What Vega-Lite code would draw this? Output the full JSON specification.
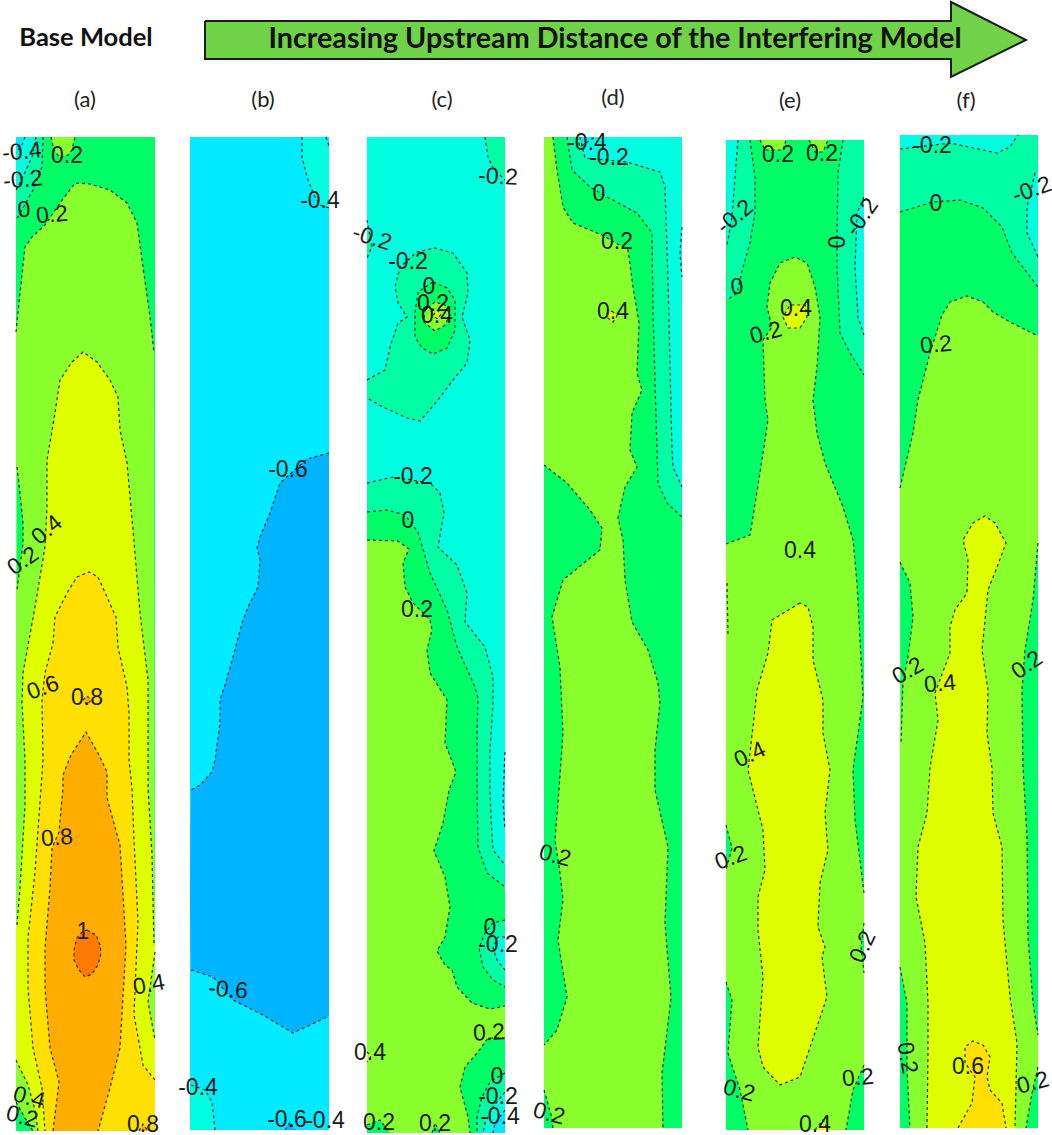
{"$schema":"https://vega.github.io/schema/vega-lite/v6.json","width":1052,"height":1135,"padding":0,"autosize":{"type":"none"},"background":"white","config":{"view":{"stroke":null}},
"datasets":{"regions":[
{"s":"a0","v":0,"x":16,"y":137,"c":1},{"s":"a0","v":0,"x":155,"y":137,"c":1},{"s":"a0","v":0,"x":155,"y":1131,"c":1},{"s":"a0","v":0,"x":16,"y":1131,"c":1},
{"s":"a1","v":0.2,"x":16,"y":332},{"s":"a1","v":0.2,"x":20,"y":293},{"s":"a1","v":0.2,"x":25,"y":247},{"s":"a1","v":0.2,"x":32,"y":237},{"s":"a1","v":0.2,"x":45,"y":225},{"s":"a1","v":0.2,"x":60,"y":203},{"s":"a1","v":0.2,"x":75,"y":183},{"s":"a1","v":0.2,"x":90,"y":184},{"s":"a1","v":0.2,"x":110,"y":190},{"s":"a1","v":0.2,"x":127,"y":203},{"s":"a1","v":0.2,"x":137,"y":223},{"s":"a1","v":0.2,"x":143,"y":267},{"s":"a1","v":0.2,"x":150,"y":317},{"s":"a1","v":0.2,"x":154,"y":353},{"s":"a1","v":0.2,"x":155,"y":1131,"c":1},{"s":"a1","v":0.2,"x":16,"y":1131,"c":1},
{"s":"a2","v":0.2,"x":51,"y":137},{"s":"a2","v":0.2,"x":54,"y":150},{"s":"a2","v":0.2,"x":60,"y":158},{"s":"a2","v":0.2,"x":68,"y":155},{"s":"a2","v":0.2,"x":72,"y":150},{"s":"a2","v":0.2,"x":75,"y":137},
{"s":"a3","v":-0.2,"x":43,"y":137},{"s":"a3","v":-0.2,"x":42,"y":167},{"s":"a3","v":-0.2,"x":33,"y":190},{"s":"a3","v":-0.2,"x":18,"y":217},{"s":"a3","v":-0.2,"x":16,"y":218},{"s":"a3","v":-0.2,"x":16,"y":137,"c":1},
{"s":"a4","v":-0.4,"x":36,"y":137},{"s":"a4","v":-0.4,"x":32,"y":157},{"s":"a4","v":-0.4,"x":20,"y":183},{"s":"a4","v":-0.4,"x":16,"y":190},{"s":"a4","v":-0.4,"x":16,"y":137,"c":1},
{"s":"a5","v":-0.6,"x":25,"y":137},{"s":"a5","v":-0.6,"x":22,"y":145},{"s":"a5","v":-0.6,"x":16,"y":153},{"s":"a5","v":-0.6,"x":16,"y":137,"c":1},
{"s":"a6","v":0,"x":17,"y":467},{"s":"a6","v":0,"x":20,"y":493},{"s":"a6","v":0,"x":23,"y":523},{"s":"a6","v":0,"x":23,"y":543},{"s":"a6","v":0,"x":17,"y":590},
{"s":"a7","v":0,"x":16,"y":1102},{"s":"a7","v":0,"x":25,"y":1118},{"s":"a7","v":0,"x":33,"y":1131},{"s":"a7","v":0,"x":16,"y":1131,"c":1},
{"s":"a8","v":0.4,"x":17,"y":925},{"s":"a8","v":0.4,"x":20,"y":888},{"s":"a8","v":0.4,"x":25,"y":805},{"s":"a8","v":0.4,"x":25,"y":760},{"s":"a8","v":0.4,"x":22,"y":703},{"s":"a8","v":0.4,"x":23,"y":673},{"s":"a8","v":0.4,"x":35,"y":607},{"s":"a8","v":0.4,"x":45,"y":547},{"s":"a8","v":0.4,"x":47,"y":507},{"s":"a8","v":0.4,"x":47,"y":460},{"s":"a8","v":0.4,"x":55,"y":413},{"s":"a8","v":0.4,"x":60,"y":380},{"s":"a8","v":0.4,"x":72,"y":362},{"s":"a8","v":0.4,"x":83,"y":352},{"s":"a8","v":0.4,"x":97,"y":362},{"s":"a8","v":0.4,"x":110,"y":380},{"s":"a8","v":0.4,"x":118,"y":397},{"s":"a8","v":0.4,"x":120,"y":430},{"s":"a8","v":0.4,"x":127,"y":463},{"s":"a8","v":0.4,"x":133,"y":530},{"s":"a8","v":0.4,"x":140,"y":613},{"s":"a8","v":0.4,"x":148,"y":680},{"s":"a8","v":0.4,"x":148,"y":760},{"s":"a8","v":0.4,"x":148,"y":788},{"s":"a8","v":0.4,"x":152,"y":855},{"s":"a8","v":0.4,"x":154,"y":945},
{"s":"a9","v":0.4,"x":16,"y":1060},{"s":"a9","v":0.4,"x":28,"y":1085},{"s":"a9","v":0.4,"x":35,"y":1110},{"s":"a9","v":0.4,"x":38,"y":1131},{"s":"a9","v":0.4,"x":155,"y":1131,"c":1},{"s":"a9","v":0.4,"x":155,"y":945,"c":1},{"s":"a9","v":0.4,"x":16,"y":925,"c":1},
{"s":"a10","v":0.2,"x":155,"y":952},{"s":"a10","v":0.2,"x":148,"y":1002},{"s":"a10","v":0.2,"x":155,"y":1040},
{"s":"a11","v":0.6,"x":155,"y":1080},{"s":"a11","v":0.6,"x":143,"y":1065},{"s":"a11","v":0.6,"x":140,"y":1048},{"s":"a11","v":0.6,"x":134,"y":1015},{"s":"a11","v":0.6,"x":135,"y":990},{"s":"a11","v":0.6,"x":138,"y":922},{"s":"a11","v":0.6,"x":136,"y":880},{"s":"a11","v":0.6,"x":134,"y":840},{"s":"a11","v":0.6,"x":132,"y":788},{"s":"a11","v":0.6,"x":129,"y":760},{"s":"a11","v":0.6,"x":129,"y":713},{"s":"a11","v":0.6,"x":127,"y":687},{"s":"a11","v":0.6,"x":118,"y":647},{"s":"a11","v":0.6,"x":116,"y":617},{"s":"a11","v":0.6,"x":107,"y":597},{"s":"a11","v":0.6,"x":98,"y":577},{"s":"a11","v":0.6,"x":89,"y":572},{"s":"a11","v":0.6,"x":77,"y":577},{"s":"a11","v":0.6,"x":67,"y":593},{"s":"a11","v":0.6,"x":55,"y":617},{"s":"a11","v":0.6,"x":53,"y":643},{"s":"a11","v":0.6,"x":45,"y":673},{"s":"a11","v":0.6,"x":42,"y":700},{"s":"a11","v":0.6,"x":43,"y":760},{"s":"a11","v":0.6,"x":41,"y":788},{"s":"a11","v":0.6,"x":35,"y":872},{"s":"a11","v":0.6,"x":28,"y":938},{"s":"a11","v":0.6,"x":28,"y":988},{"s":"a11","v":0.6,"x":33,"y":1048},{"s":"a11","v":0.6,"x":42,"y":1088},{"s":"a11","v":0.6,"x":45,"y":1131},{"s":"a11","v":0.6,"x":155,"y":1131,"c":1},
{"s":"a12","v":0.8,"x":53,"y":1131},{"s":"a12","v":0.8,"x":59,"y":1082},{"s":"a12","v":0.8,"x":50,"y":1048},{"s":"a12","v":0.8,"x":45,"y":988},{"s":"a12","v":0.8,"x":45,"y":948},{"s":"a12","v":0.8,"x":50,"y":888},{"s":"a12","v":0.8,"x":52,"y":848},{"s":"a12","v":0.8,"x":59,"y":832},{"s":"a12","v":0.8,"x":63,"y":788},{"s":"a12","v":0.8,"x":63,"y":775},{"s":"a12","v":0.8,"x":71,"y":755},{"s":"a12","v":0.8,"x":86,"y":732},{"s":"a12","v":0.8,"x":99,"y":755},{"s":"a12","v":0.8,"x":107,"y":772},{"s":"a12","v":0.8,"x":107,"y":798},{"s":"a12","v":0.8,"x":120,"y":845},{"s":"a12","v":0.8,"x":126,"y":945},{"s":"a12","v":0.8,"x":120,"y":1048},{"s":"a12","v":0.8,"x":110,"y":1088},{"s":"a12","v":0.8,"x":98,"y":1131},
{"s":"a13","v":0.8,"x":83,"y":700},{"s":"a13","v":0.8,"x":87,"y":696},{"s":"a13","v":0.8,"x":91,"y":700},{"s":"a13","v":0.8,"x":87,"y":705},{"s":"a13","v":0.8,"x":83,"y":700},
{"s":"a15","v":0.8,"x":139,"y":1131},{"s":"a15","v":0.8,"x":143,"y":1124},{"s":"a15","v":0.8,"x":148,"y":1131},
{"s":"a14","v":1,"x":87,"y":930},{"s":"a14","v":1,"x":96,"y":935},{"s":"a14","v":1,"x":100,"y":945},{"s":"a14","v":1,"x":101,"y":953},{"s":"a14","v":1,"x":98,"y":965},{"s":"a14","v":1,"x":92,"y":974},{"s":"a14","v":1,"x":85,"y":977},{"s":"a14","v":1,"x":79,"y":970},{"s":"a14","v":1,"x":74,"y":960},{"s":"a14","v":1,"x":74,"y":950},{"s":"a14","v":1,"x":77,"y":938},{"s":"a14","v":1,"x":83,"y":931},{"s":"a14","v":1,"x":87,"y":930},

{"s":"b0","v":-0.6,"x":190,"y":137,"c":1},{"s":"b0","v":-0.6,"x":329,"y":137,"c":1},{"s":"b0","v":-0.6,"x":329,"y":1130,"c":1},{"s":"b0","v":-0.6,"x":190,"y":1130,"c":1},
{"s":"b1","v":-0.4,"x":329,"y":208},{"s":"b1","v":-0.4,"x":320,"y":205},{"s":"b1","v":-0.4,"x":315,"y":197},{"s":"b1","v":-0.4,"x":308,"y":180},{"s":"b1","v":-0.4,"x":302,"y":157},{"s":"b1","v":-0.4,"x":302,"y":137},{"s":"b1","v":-0.4,"x":329,"y":137,"c":1},
{"s":"b2","v":-0.6,"x":326,"y":137},{"s":"b2","v":-0.6,"x":329,"y":146},{"s":"b2","v":-0.6,"x":329,"y":137,"c":1},
{"s":"b3","v":-0.8,"x":329,"y":453},{"s":"b3","v":-0.8,"x":307,"y":459},{"s":"b3","v":-0.8,"x":280,"y":483},{"s":"b3","v":-0.8,"x":270,"y":513},{"s":"b3","v":-0.8,"x":260,"y":537},{"s":"b3","v":-0.8,"x":257,"y":548},{"s":"b3","v":-0.8,"x":260,"y":560},{"s":"b3","v":-0.8,"x":258,"y":587},{"s":"b3","v":-0.8,"x":248,"y":607},{"s":"b3","v":-0.8,"x":242,"y":623},{"s":"b3","v":-0.8,"x":233,"y":657},{"s":"b3","v":-0.8,"x":225,"y":685},{"s":"b3","v":-0.8,"x":220,"y":700},{"s":"b3","v":-0.8,"x":220,"y":723},{"s":"b3","v":-0.8,"x":215,"y":760},{"s":"b3","v":-0.8,"x":212,"y":772},{"s":"b3","v":-0.8,"x":200,"y":785},{"s":"b3","v":-0.8,"x":191,"y":790},{"s":"b3","v":-0.8,"x":190,"y":900,"c":1},{"s":"b3","v":-0.8,"x":329,"y":900,"c":1},
{"s":"b4","v":-0.8,"x":191,"y":970},{"s":"b4","v":-0.8,"x":213,"y":977},{"s":"b4","v":-0.8,"x":233,"y":1000},{"s":"b4","v":-0.8,"x":263,"y":1015},{"s":"b4","v":-0.8,"x":293,"y":1033},{"s":"b4","v":-0.8,"x":329,"y":1016},{"s":"b4","v":-0.8,"x":329,"y":900,"c":1},{"s":"b4","v":-0.8,"x":190,"y":900,"c":1},
{"s":"b5","v":-0.4,"x":191,"y":1085},{"s":"b5","v":-0.4,"x":205,"y":1090},{"s":"b5","v":-0.4,"x":212,"y":1102},{"s":"b5","v":-0.4,"x":215,"y":1130},{"s":"b5","v":-0.4,"x":190,"y":1130,"c":1},
{"s":"b6","v":-0.8,"x":285,"y":1130},{"s":"b6","v":-0.8,"x":290,"y":1122},{"s":"b6","v":-0.8,"x":295,"y":1130},

{"s":"c0","v":-0.4,"x":367,"y":137,"c":1},{"s":"c0","v":-0.4,"x":505,"y":137,"c":1},{"s":"c0","v":-0.4,"x":505,"y":1133,"c":1},{"s":"c0","v":-0.4,"x":367,"y":1133,"c":1},
{"s":"c1","v":-0.2,"x":485,"y":137},{"s":"c1","v":-0.2,"x":488,"y":157},{"s":"c1","v":-0.2,"x":493,"y":168},{"s":"c1","v":-0.2,"x":505,"y":180},{"s":"c1","v":-0.2,"x":505,"y":137,"c":1},
{"s":"c2","v":-0.2,"x":367,"y":220},{"s":"c2","v":-0.2,"x":372,"y":247},{"s":"c2","v":-0.2,"x":367,"y":258},
{"s":"c3","v":-0.2,"x":367,"y":380},{"s":"c3","v":-0.2,"x":385,"y":370},{"s":"c3","v":-0.2,"x":390,"y":347},{"s":"c3","v":-0.2,"x":398,"y":323},{"s":"c3","v":-0.2,"x":407,"y":317},{"s":"c3","v":-0.2,"x":398,"y":303},{"s":"c3","v":-0.2,"x":395,"y":287},{"s":"c3","v":-0.2,"x":400,"y":267},{"s":"c3","v":-0.2,"x":417,"y":252},{"s":"c3","v":-0.2,"x":435,"y":248},{"s":"c3","v":-0.2,"x":453,"y":253},{"s":"c3","v":-0.2,"x":467,"y":273},{"s":"c3","v":-0.2,"x":468,"y":293},{"s":"c3","v":-0.2,"x":462,"y":317},{"s":"c3","v":-0.2,"x":470,"y":340},{"s":"c3","v":-0.2,"x":467,"y":363},{"s":"c3","v":-0.2,"x":453,"y":380},{"s":"c3","v":-0.2,"x":438,"y":400},{"s":"c3","v":-0.2,"x":420,"y":421},{"s":"c3","v":-0.2,"x":407,"y":418},{"s":"c3","v":-0.2,"x":383,"y":407},{"s":"c3","v":-0.2,"x":367,"y":398},
{"s":"c4","v":0,"x":433,"y":282},{"s":"c4","v":0,"x":418,"y":292},{"s":"c4","v":0,"x":415,"y":313},{"s":"c4","v":0,"x":415,"y":337},{"s":"c4","v":0,"x":422,"y":348},{"s":"c4","v":0,"x":433,"y":354},{"s":"c4","v":0,"x":447,"y":348},{"s":"c4","v":0,"x":455,"y":330},{"s":"c4","v":0,"x":455,"y":300},{"s":"c4","v":0,"x":447,"y":288},{"s":"c4","v":0,"x":433,"y":282},
{"s":"c5","v":0.2,"x":435,"y":302},{"s":"c5","v":0.2,"x":425,"y":310},{"s":"c5","v":0.2,"x":424,"y":322},{"s":"c5","v":0.2,"x":435,"y":331},{"s":"c5","v":0.2,"x":445,"y":325},{"s":"c5","v":0.2,"x":450,"y":315},{"s":"c5","v":0.2,"x":445,"y":305},{"s":"c5","v":0.2,"x":435,"y":302},
{"s":"c6","v":0.4,"x":437,"y":310},{"s":"c6","v":0.4,"x":441,"y":314},{"s":"c6","v":0.4,"x":438,"y":319},{"s":"c6","v":0.4,"x":433,"y":316},{"s":"c6","v":0.4,"x":437,"y":310},
{"s":"c7","v":-0.2,"x":367,"y":483},{"s":"c7","v":-0.2,"x":393,"y":477},{"s":"c7","v":-0.2,"x":430,"y":483},{"s":"c7","v":-0.2,"x":440,"y":493},{"s":"c7","v":-0.2,"x":444,"y":513},{"s":"c7","v":-0.2,"x":438,"y":547},{"s":"c7","v":-0.2,"x":457,"y":565},{"s":"c7","v":-0.2,"x":467,"y":593},{"s":"c7","v":-0.2,"x":465,"y":622},{"s":"c7","v":-0.2,"x":485,"y":647},{"s":"c7","v":-0.2,"x":493,"y":677},{"s":"c7","v":-0.2,"x":493,"y":703},{"s":"c7","v":-0.2,"x":490,"y":750},{"s":"c7","v":-0.2,"x":490,"y":790},{"s":"c7","v":-0.2,"x":491,"y":817},{"s":"c7","v":-0.2,"x":493,"y":850},{"s":"c7","v":-0.2,"x":505,"y":865},{"s":"c7","v":-0.2,"x":505,"y":1133,"c":1},{"s":"c7","v":-0.2,"x":367,"y":1133,"c":1},
{"s":"c8","v":-0.6,"x":505,"y":752},{"s":"c8","v":-0.6,"x":503,"y":800},{"s":"c8","v":-0.6,"x":505,"y":830},
{"s":"c9","v":0,"x":367,"y":512},{"s":"c9","v":0,"x":387,"y":510},{"s":"c9","v":0,"x":405,"y":515},{"s":"c9","v":0,"x":418,"y":532},{"s":"c9","v":0,"x":430,"y":573},{"s":"c9","v":0,"x":447,"y":610},{"s":"c9","v":0,"x":457,"y":647},{"s":"c9","v":0,"x":475,"y":687},{"s":"c9","v":0,"x":478,"y":698},{"s":"c9","v":0,"x":477,"y":733},{"s":"c9","v":0,"x":477,"y":790},{"s":"c9","v":0,"x":478,"y":847},{"s":"c9","v":0,"x":487,"y":873},{"s":"c9","v":0,"x":505,"y":887},{"s":"c9","v":0,"x":505,"y":1133,"c":1},{"s":"c9","v":0,"x":367,"y":1133,"c":1},
{"s":"c10","v":0.2,"x":367,"y":540},{"s":"c10","v":0.2,"x":398,"y":541},{"s":"c10","v":0.2,"x":409,"y":549},{"s":"c10","v":0.2,"x":403,"y":563},{"s":"c10","v":0.2,"x":405,"y":587},{"s":"c10","v":0.2,"x":413,"y":603},{"s":"c10","v":0.2,"x":430,"y":620},{"s":"c10","v":0.2,"x":432,"y":630},{"s":"c10","v":0.2,"x":427,"y":650},{"s":"c10","v":0.2,"x":430,"y":673},{"s":"c10","v":0.2,"x":447,"y":700},{"s":"c10","v":0.2,"x":445,"y":743},{"s":"c10","v":0.2,"x":456,"y":772},{"s":"c10","v":0.2,"x":449,"y":790},{"s":"c10","v":0.2,"x":443,"y":823},{"s":"c10","v":0.2,"x":434,"y":851},{"s":"c10","v":0.2,"x":445,"y":877},{"s":"c10","v":0.2,"x":450,"y":907},{"s":"c10","v":0.2,"x":445,"y":937},{"s":"c10","v":0.2,"x":437,"y":951},{"s":"c10","v":0.2,"x":445,"y":965},{"s":"c10","v":0.2,"x":452,"y":970},{"s":"c10","v":0.2,"x":457,"y":987},{"s":"c10","v":0.2,"x":472,"y":1003},{"s":"c10","v":0.2,"x":490,"y":1009},{"s":"c10","v":0.2,"x":505,"y":1006},{"s":"c10","v":0.2,"x":505,"y":1133,"c":1},{"s":"c10","v":0.2,"x":367,"y":1133,"c":1},
{"s":"c11","v":0,"x":505,"y":1038},{"s":"c11","v":0,"x":488,"y":1038},{"s":"c11","v":0,"x":478,"y":1052},{"s":"c11","v":0,"x":465,"y":1067},{"s":"c11","v":0,"x":460,"y":1087},{"s":"c11","v":0,"x":468,"y":1117},{"s":"c11","v":0,"x":470,"y":1133},{"s":"c11","v":0,"x":505,"y":1133,"c":1},
{"s":"c12","v":-0.2,"x":505,"y":920},{"s":"c12","v":-0.2,"x":493,"y":923},{"s":"c12","v":-0.2,"x":485,"y":933},{"s":"c12","v":-0.2,"x":479,"y":948},{"s":"c12","v":-0.2,"x":483,"y":967},{"s":"c12","v":-0.2,"x":493,"y":980},{"s":"c12","v":-0.2,"x":505,"y":987},
{"s":"c13","v":-0.4,"x":505,"y":937},{"s":"c13","v":-0.4,"x":498,"y":937},{"s":"c13","v":-0.4,"x":493,"y":948},{"s":"c13","v":-0.4,"x":497,"y":960},{"s":"c13","v":-0.4,"x":505,"y":970},
{"s":"c14","v":-0.2,"x":505,"y":1073},{"s":"c14","v":-0.2,"x":490,"y":1082},{"s":"c14","v":-0.2,"x":482,"y":1097},{"s":"c14","v":-0.2,"x":477,"y":1117},{"s":"c14","v":-0.2,"x":477,"y":1133},{"s":"c14","v":-0.2,"x":505,"y":1133,"c":1},
{"s":"c15","v":-0.4,"x":505,"y":1092},{"s":"c15","v":-0.4,"x":493,"y":1107},{"s":"c15","v":-0.4,"x":485,"y":1123},{"s":"c15","v":-0.4,"x":483,"y":1133},{"s":"c15","v":-0.4,"x":505,"y":1133,"c":1},
{"s":"c16","v":-0.6,"x":505,"y":1110},{"s":"c16","v":-0.6,"x":495,"y":1123},{"s":"c16","v":-0.6,"x":493,"y":1133},{"s":"c16","v":-0.6,"x":505,"y":1133,"c":1},
{"s":"c17","v":0,"x":367,"y":1125},{"s":"c17","v":0,"x":380,"y":1120},{"s":"c17","v":0,"x":390,"y":1133},{"s":"c17","v":0,"x":367,"y":1133,"c":1},
{"s":"c18","v":0,"x":432,"y":1133},{"s":"c18","v":0,"x":435,"y":1123},{"s":"c18","v":0,"x":440,"y":1133},
{"s":"c19","v":0.4,"x":367,"y":1052},{"s":"c19","v":0.4,"x":371,"y":1056},{"s":"c19","v":0.4,"x":367,"y":1062},

{"s":"d0","v":-0.4,"x":544,"y":137,"c":1},{"s":"d0","v":-0.4,"x":682,"y":137,"c":1},{"s":"d0","v":-0.4,"x":682,"y":1128,"c":1},{"s":"d0","v":-0.4,"x":544,"y":1128,"c":1},
{"s":"d1","v":-0.6,"x":682,"y":227},{"s":"d1","v":-0.6,"x":680,"y":253},{"s":"d1","v":-0.6,"x":682,"y":277},
{"s":"d2","v":-0.6,"x":577,"y":137},{"s":"d2","v":-0.6,"x":580,"y":147},{"s":"d2","v":-0.6,"x":595,"y":137},
{"s":"d3","v":-0.2,"x":580,"y":137},{"s":"d3","v":-0.2,"x":585,"y":158},{"s":"d3","v":-0.2,"x":627,"y":162},{"s":"d3","v":-0.2,"x":660,"y":172},{"s":"d3","v":-0.2,"x":665,"y":187},{"s":"d3","v":-0.2,"x":668,"y":280},{"s":"d3","v":-0.2,"x":672,"y":450},{"s":"d3","v":-0.2,"x":673,"y":467},{"s":"d3","v":-0.2,"x":682,"y":487},{"s":"d3","v":-0.2,"x":682,"y":1128,"c":1},{"s":"d3","v":-0.2,"x":544,"y":1128,"c":1},{"s":"d3","v":-0.2,"x":544,"y":137,"c":1},
{"s":"d4","v":0,"x":567,"y":137},{"s":"d4","v":0,"x":572,"y":170},{"s":"d4","v":0,"x":590,"y":187},{"s":"d4","v":0,"x":607,"y":197},{"s":"d4","v":0,"x":637,"y":213},{"s":"d4","v":0,"x":652,"y":233},{"s":"d4","v":0,"x":653,"y":313},{"s":"d4","v":0,"x":657,"y":450},{"s":"d4","v":0,"x":658,"y":483},{"s":"d4","v":0,"x":667,"y":503},{"s":"d4","v":0,"x":682,"y":517},{"s":"d4","v":0,"x":682,"y":1128,"c":1},{"s":"d4","v":0,"x":544,"y":1128,"c":1},{"s":"d4","v":0,"x":544,"y":137,"c":1},
{"s":"d5","v":0.2,"x":553,"y":137},{"s":"d5","v":0.2,"x":557,"y":170},{"s":"d5","v":0.2,"x":563,"y":207},{"s":"d5","v":0.2,"x":573,"y":223},{"s":"d5","v":0.2,"x":602,"y":235},{"s":"d5","v":0.2,"x":628,"y":250},{"s":"d5","v":0.2,"x":633,"y":287},{"s":"d5","v":0.2,"x":639,"y":323},{"s":"d5","v":0.2,"x":637,"y":373},{"s":"d5","v":0.2,"x":642,"y":390},{"s":"d5","v":0.2,"x":632,"y":413},{"s":"d5","v":0.2,"x":630,"y":450},{"s":"d5","v":0.2,"x":637,"y":467},{"s":"d5","v":0.2,"x":625,"y":487},{"s":"d5","v":0.2,"x":618,"y":518},{"s":"d5","v":0.2,"x":623,"y":540},{"s":"d5","v":0.2,"x":625,"y":580},{"s":"d5","v":0.2,"x":632,"y":622},{"s":"d5","v":0.2,"x":648,"y":650},{"s":"d5","v":0.2,"x":658,"y":683},{"s":"d5","v":0.2,"x":660,"y":703},{"s":"d5","v":0.2,"x":655,"y":750},{"s":"d5","v":0.2,"x":655,"y":790},{"s":"d5","v":0.2,"x":668,"y":847},{"s":"d5","v":0.2,"x":665,"y":923},{"s":"d5","v":0.2,"x":671,"y":998},{"s":"d5","v":0.2,"x":662,"y":1073},{"s":"d5","v":0.2,"x":663,"y":1128},{"s":"d5","v":0.2,"x":544,"y":1128,"c":1},{"s":"d5","v":0.2,"x":544,"y":137,"c":1},
{"s":"d6","v":0,"x":544,"y":465},{"s":"d6","v":0,"x":567,"y":483},{"s":"d6","v":0,"x":590,"y":510},{"s":"d6","v":0,"x":602,"y":528},{"s":"d6","v":0,"x":600,"y":550},{"s":"d6","v":0,"x":563,"y":580},{"s":"d6","v":0,"x":552,"y":617},{"s":"d6","v":0,"x":560,"y":667},{"s":"d6","v":0,"x":563,"y":733},{"s":"d6","v":0,"x":559,"y":790},{"s":"d6","v":0,"x":555,"y":840},{"s":"d6","v":0,"x":560,"y":873},{"s":"d6","v":0,"x":563,"y":900},{"s":"d6","v":0,"x":558,"y":940},{"s":"d6","v":0,"x":567,"y":997},{"s":"d6","v":0,"x":557,"y":1030},{"s":"d6","v":0,"x":544,"y":1045},
{"s":"d7","v":0,"x":544,"y":1090},{"s":"d7","v":0,"x":552,"y":1118},{"s":"d7","v":0,"x":553,"y":1128},{"s":"d7","v":0,"x":544,"y":1128,"c":1},
{"s":"d8","v":0.4,"x":612,"y":311},{"s":"d8","v":0.4,"x":617,"y":316},{"s":"d8","v":0.4,"x":613,"y":322},{"s":"d8","v":0.4,"x":608,"y":318},{"s":"d8","v":0.4,"x":607,"y":313},{"s":"d8","v":0.4,"x":612,"y":311},

{"s":"e0","v":0,"x":726,"y":140,"c":1},{"s":"e0","v":0,"x":864,"y":140,"c":1},{"s":"e0","v":0,"x":864,"y":1130,"c":1},{"s":"e0","v":0,"x":726,"y":1130,"c":1},
{"s":"e1","v":-0.2,"x":750,"y":140},{"s":"e1","v":-0.2,"x":755,"y":177},{"s":"e1","v":-0.2,"x":755,"y":213},{"s":"e1","v":-0.2,"x":750,"y":243},{"s":"e1","v":-0.2,"x":743,"y":267},{"s":"e1","v":-0.2,"x":737,"y":293},{"s":"e1","v":-0.2,"x":727,"y":300},{"s":"e1","v":-0.2,"x":726,"y":140,"c":1},
{"s":"e2","v":-0.4,"x":738,"y":140},{"s":"e2","v":-0.4,"x":735,"y":177},{"s":"e2","v":-0.4,"x":732,"y":217},{"s":"e2","v":-0.4,"x":727,"y":245},{"s":"e2","v":-0.4,"x":726,"y":140,"c":1},
{"s":"e3","v":-0.2,"x":843,"y":140},{"s":"e3","v":-0.2,"x":838,"y":173},{"s":"e3","v":-0.2,"x":837,"y":233},{"s":"e3","v":-0.2,"x":837,"y":267},{"s":"e3","v":-0.2,"x":840,"y":333},{"s":"e3","v":-0.2,"x":850,"y":353},{"s":"e3","v":-0.2,"x":864,"y":375},{"s":"e3","v":-0.2,"x":864,"y":140,"c":1},
{"s":"e4","v":-0.4,"x":864,"y":197},{"s":"e4","v":-0.4,"x":857,"y":213},{"s":"e4","v":-0.4,"x":855,"y":267},{"s":"e4","v":-0.4,"x":858,"y":317},{"s":"e4","v":-0.4,"x":864,"y":335},
{"s":"e5","v":0.2,"x":760,"y":140},{"s":"e5","v":0.2,"x":765,"y":150},{"s":"e5","v":0.2,"x":783,"y":150},{"s":"e5","v":0.2,"x":786,"y":140},
{"s":"e6","v":0.2,"x":809,"y":140},{"s":"e6","v":0.2,"x":815,"y":152},{"s":"e6","v":0.2,"x":823,"y":152},{"s":"e6","v":0.2,"x":828,"y":140},
{"s":"e7","v":0.2,"x":864,"y":893},{"s":"e7","v":0.2,"x":855,"y":820},{"s":"e7","v":0.2,"x":853,"y":770},{"s":"e7","v":0.2,"x":863,"y":697},{"s":"e7","v":0.2,"x":857,"y":583},{"s":"e7","v":0.2,"x":853,"y":540},{"s":"e7","v":0.2,"x":843,"y":507},{"s":"e7","v":0.2,"x":825,"y":463},{"s":"e7","v":0.2,"x":817,"y":433},{"s":"e7","v":0.2,"x":813,"y":400},{"s":"e7","v":0.2,"x":817,"y":367},{"s":"e7","v":0.2,"x":820,"y":317},{"s":"e7","v":0.2,"x":815,"y":287},{"s":"e7","v":0.2,"x":807,"y":263},{"s":"e7","v":0.2,"x":795,"y":257},{"s":"e7","v":0.2,"x":780,"y":263},{"s":"e7","v":0.2,"x":770,"y":283},{"s":"e7","v":0.2,"x":767,"y":307},{"s":"e7","v":0.2,"x":772,"y":327},{"s":"e7","v":0.2,"x":763,"y":340},{"s":"e7","v":0.2,"x":765,"y":400},{"s":"e7","v":0.2,"x":768,"y":420},{"s":"e7","v":0.2,"x":762,"y":460},{"s":"e7","v":0.2,"x":752,"y":523},{"s":"e7","v":0.2,"x":750,"y":535},{"s":"e7","v":0.2,"x":726,"y":544},{"s":"e7","v":0.2,"x":726,"y":1130,"c":1},{"s":"e7","v":0.2,"x":864,"y":1130,"c":1},
{"s":"e8","v":0,"x":727,"y":583},{"s":"e8","v":0,"x":728,"y":635},
{"s":"e9","v":0,"x":726,"y":825},{"s":"e9","v":0,"x":732,"y":848},{"s":"e9","v":0,"x":726,"y":870},
{"s":"e10","v":0,"x":726,"y":982},{"s":"e10","v":0,"x":732,"y":1000},{"s":"e10","v":0,"x":728,"y":1053},{"s":"e10","v":0,"x":740,"y":1090},{"s":"e10","v":0,"x":748,"y":1130},{"s":"e10","v":0,"x":726,"y":1130,"c":1},
{"s":"e11","v":0,"x":864,"y":923},{"s":"e11","v":0,"x":861,"y":947},{"s":"e11","v":0,"x":864,"y":973},
{"s":"e12","v":0,"x":864,"y":1065},{"s":"e12","v":0,"x":853,"y":1090},{"s":"e12","v":0,"x":846,"y":1130},{"s":"e12","v":0,"x":864,"y":1130,"c":1},
{"s":"e13","v":0.4,"x":783,"y":317},{"s":"e13","v":0.4,"x":788,"y":328},{"s":"e13","v":0.4,"x":800,"y":328},{"s":"e13","v":0.4,"x":807,"y":317},{"s":"e13","v":0.4,"x":805,"y":305},{"s":"e13","v":0.4,"x":790,"y":305},{"s":"e13","v":0.4,"x":783,"y":317},
{"s":"e14","v":0.4,"x":800,"y":603},{"s":"e14","v":0.4,"x":772,"y":620},{"s":"e14","v":0.4,"x":768,"y":653},{"s":"e14","v":0.4,"x":757,"y":690},{"s":"e14","v":0.4,"x":753,"y":727},{"s":"e14","v":0.4,"x":748,"y":770},{"s":"e14","v":0.4,"x":763,"y":830},{"s":"e14","v":0.4,"x":765,"y":870},{"s":"e14","v":0.4,"x":758,"y":897},{"s":"e14","v":0.4,"x":758,"y":930},{"s":"e14","v":0.4,"x":763,"y":977},{"s":"e14","v":0.4,"x":758,"y":1047},{"s":"e14","v":0.4,"x":763,"y":1067},{"s":"e14","v":0.4,"x":780,"y":1085},{"s":"e14","v":0.4,"x":800,"y":1077},{"s":"e14","v":0.4,"x":827,"y":997},{"s":"e14","v":0.4,"x":822,"y":957},{"s":"e14","v":0.4,"x":825,"y":947},{"s":"e14","v":0.4,"x":818,"y":927},{"s":"e14","v":0.4,"x":820,"y":883},{"s":"e14","v":0.4,"x":828,"y":850},{"s":"e14","v":0.4,"x":825,"y":813},{"s":"e14","v":0.4,"x":830,"y":770},{"s":"e14","v":0.4,"x":823,"y":733},{"s":"e14","v":0.4,"x":823,"y":700},{"s":"e14","v":0.4,"x":813,"y":660},{"s":"e14","v":0.4,"x":813,"y":627},{"s":"e14","v":0.4,"x":808,"y":607},{"s":"e14","v":0.4,"x":800,"y":603},
{"s":"e15","v":0.4,"x":815,"y":1130},{"s":"e15","v":0.4,"x":823,"y":1120},{"s":"e15","v":0.4,"x":828,"y":1130},

{"s":"f0","v":-0.2,"x":900,"y":135,"c":1},{"s":"f0","v":-0.2,"x":1038,"y":135,"c":1},{"s":"f0","v":-0.2,"x":1038,"y":1128,"c":1},{"s":"f0","v":-0.2,"x":900,"y":1128,"c":1},
{"s":"f1","v":-0.4,"x":900,"y":149},{"s":"f1","v":-0.4,"x":917,"y":147},{"s":"f1","v":-0.4,"x":950,"y":143},{"s":"f1","v":-0.4,"x":997,"y":153},{"s":"f1","v":-0.4,"x":1010,"y":147},{"s":"f1","v":-0.4,"x":1018,"y":135},{"s":"f1","v":-0.4,"x":900,"y":135,"c":1},
{"s":"f2","v":-0.4,"x":1035,"y":173},{"s":"f2","v":-0.4,"x":1027,"y":207},{"s":"f2","v":-0.4,"x":1027,"y":233},{"s":"f2","v":-0.4,"x":1038,"y":257},{"s":"f2","v":-0.4,"x":1038,"y":173,"c":1},
{"s":"f3","v":0,"x":900,"y":212},{"s":"f3","v":0,"x":933,"y":202},{"s":"f3","v":0,"x":960,"y":200},{"s":"f3","v":0,"x":983,"y":208},{"s":"f3","v":0,"x":1002,"y":227},{"s":"f3","v":0,"x":1012,"y":253},{"s":"f3","v":0,"x":1038,"y":287},{"s":"f3","v":0,"x":1038,"y":1128,"c":1},{"s":"f3","v":0,"x":900,"y":1128,"c":1},
{"s":"f4","v":0.2,"x":900,"y":488},{"s":"f4","v":0.2,"x":913,"y":433},{"s":"f4","v":0.2,"x":918,"y":400},{"s":"f4","v":0.2,"x":930,"y":353},{"s":"f4","v":0.2,"x":942,"y":315},{"s":"f4","v":0.2,"x":950,"y":302},{"s":"f4","v":0.2,"x":967,"y":296},{"s":"f4","v":0.2,"x":983,"y":302},{"s":"f4","v":0.2,"x":993,"y":312},{"s":"f4","v":0.2,"x":1010,"y":322},{"s":"f4","v":0.2,"x":1038,"y":336},{"s":"f4","v":0.2,"x":1038,"y":1128,"c":1},{"s":"f4","v":0.2,"x":900,"y":1128,"c":1},
{"s":"f5","v":0,"x":900,"y":562},{"s":"f5","v":0,"x":910,"y":583},{"s":"f5","v":0,"x":913,"y":617},{"s":"f5","v":0,"x":908,"y":657},{"s":"f5","v":0,"x":903,"y":683},{"s":"f5","v":0,"x":901,"y":743},
{"s":"f6","v":0,"x":1038,"y":543},{"s":"f6","v":0,"x":1033,"y":600},{"s":"f6","v":0,"x":1025,"y":650},{"s":"f6","v":0,"x":1022,"y":690},{"s":"f6","v":0,"x":1023,"y":768},{"s":"f6","v":0,"x":1027,"y":837},{"s":"f6","v":0,"x":1028,"y":937},{"s":"f6","v":0,"x":1033,"y":1003},{"s":"f6","v":0,"x":1038,"y":1035},
{"s":"f7","v":0,"x":900,"y":967},{"s":"f7","v":0,"x":907,"y":1003},{"s":"f7","v":0,"x":907,"y":1043},{"s":"f7","v":0,"x":907,"y":1070},{"s":"f7","v":0,"x":910,"y":1128},{"s":"f7","v":0,"x":900,"y":1128,"c":1},
{"s":"f8","v":0,"x":1038,"y":1067},{"s":"f8","v":0,"x":1032,"y":1093},{"s":"f8","v":0,"x":1026,"y":1128},{"s":"f8","v":0,"x":1038,"y":1128,"c":1},
{"s":"f9","v":0.4,"x":927,"y":1128},{"s":"f9","v":0.4,"x":928,"y":1053},{"s":"f9","v":0.4,"x":928,"y":1003},{"s":"f9","v":0.4,"x":925,"y":943},{"s":"f9","v":0.4,"x":916,"y":897},{"s":"f9","v":0.4,"x":918,"y":847},{"s":"f9","v":0.4,"x":927,"y":813},{"s":"f9","v":0.4,"x":930,"y":768},{"s":"f9","v":0.4,"x":938,"y":720},{"s":"f9","v":0.4,"x":935,"y":693},{"s":"f9","v":0.4,"x":950,"y":653},{"s":"f9","v":0.4,"x":950,"y":627},{"s":"f9","v":0.4,"x":955,"y":610},{"s":"f9","v":0.4,"x":967,"y":593},{"s":"f9","v":0.4,"x":968,"y":560},{"s":"f9","v":0.4,"x":963,"y":540},{"s":"f9","v":0.4,"x":973,"y":523},{"s":"f9","v":0.4,"x":985,"y":516},{"s":"f9","v":0.4,"x":995,"y":523},{"s":"f9","v":0.4,"x":1006,"y":543},{"s":"f9","v":0.4,"x":997,"y":567},{"s":"f9","v":0.4,"x":988,"y":590},{"s":"f9","v":0.4,"x":982,"y":650},{"s":"f9","v":0.4,"x":988,"y":690},{"s":"f9","v":0.4,"x":987,"y":733},{"s":"f9","v":0.4,"x":992,"y":768},{"s":"f9","v":0.4,"x":993,"y":813},{"s":"f9","v":0.4,"x":1002,"y":847},{"s":"f9","v":0.4,"x":1003,"y":920},{"s":"f9","v":0.4,"x":1010,"y":997},{"s":"f9","v":0.4,"x":1017,"y":1043},{"s":"f9","v":0.4,"x":1015,"y":1128},
{"s":"f10","v":0.6,"x":958,"y":1128},{"s":"f10","v":0.6,"x":972,"y":1103},{"s":"f10","v":0.6,"x":975,"y":1077},{"s":"f10","v":0.6,"x":965,"y":1063},{"s":"f10","v":0.6,"x":965,"y":1047},{"s":"f10","v":0.6,"x":973,"y":1041},{"s":"f10","v":0.6,"x":983,"y":1045},{"s":"f10","v":0.6,"x":990,"y":1057},{"s":"f10","v":0.6,"x":987,"y":1077},{"s":"f10","v":0.6,"x":990,"y":1090},{"s":"f10","v":0.6,"x":1002,"y":1103},{"s":"f10","v":0.6,"x":1006,"y":1128}
],
"labels":[
{"t":"-0.4","x":22,"y":152,"a":-5},{"t":"-0.2","x":23,"y":180,"a":-5},{"t":"0","x":24,"y":210,"a":-5},{"t":"0.2","x":67,"y":156,"a":0},{"t":"0.2","x":52,"y":215,"a":-5},{"t":"0.2","x":23,"y":561,"a":-35},{"t":"0.4","x":47,"y":530,"a":-40},{"t":"0.6","x":43,"y":688,"a":-20},{"t":"0.8","x":87,"y":698,"a":0},{"t":"0.8","x":57,"y":838,"a":-5},{"t":"1","x":83,"y":932,"a":0},{"t":"0.4","x":149,"y":985,"a":-10},{"t":"0.4","x":29,"y":1098,"a":15},{"t":"0.2","x":22,"y":1117,"a":15},{"t":"0.8","x":143,"y":1125,"a":0},
{"t":"-0.4","x":320,"y":201,"a":0},{"t":"-0.6","x":288,"y":470,"a":0},{"t":"-0.6","x":228,"y":990,"a":5},{"t":"-0.4","x":198,"y":1088,"a":0},{"t":"-0.6","x":287,"y":1120,"a":0},{"t":"-0.4","x":325,"y":1121,"a":0},
{"t":"-0.2","x":498,"y":177,"a":3},{"t":"-0.2","x":372,"y":238,"a":18},{"t":"-0.2","x":408,"y":262,"a":0},{"t":"0","x":429,"y":287,"a":0},{"t":"0.2","x":433,"y":304,"a":0},{"t":"0.4","x":437,"y":316,"a":0},{"t":"-0.2","x":413,"y":477,"a":0},{"t":"0","x":408,"y":521,"a":0},{"t":"0.2","x":417,"y":610,"a":0},{"t":"0","x":490,"y":928,"a":0},{"t":"-0.2","x":498,"y":945,"a":0},{"t":"0.2","x":489,"y":1033,"a":-3},{"t":"0.4","x":370,"y":1053,"a":0},{"t":"0","x":497,"y":1077,"a":0},{"t":"-0.2","x":498,"y":1097,"a":0},{"t":"-0.4","x":500,"y":1117,"a":0},{"t":"0.2","x":379,"y":1123,"a":0},{"t":"0.2","x":435,"y":1124,"a":0},
{"t":"-0.4","x":587,"y":143,"a":0},{"t":"-0.2","x":609,"y":158,"a":0},{"t":"0","x":599,"y":194,"a":0},{"t":"0.2","x":617,"y":242,"a":0},{"t":"0.4","x":613,"y":312,"a":0},{"t":"0.2","x":555,"y":856,"a":15},{"t":"0.2","x":549,"y":1114,"a":15},
{"t":"0.2","x":778,"y":155,"a":0},{"t":"0.2","x":822,"y":154,"a":0},{"t":"-0.2","x":735,"y":217,"a":-40},{"t":"-0.2","x":862,"y":217,"a":-55},{"t":"0","x":838,"y":242,"a":-90},{"t":"0","x":737,"y":287,"a":-5},{"t":"0.4","x":796,"y":309,"a":0},{"t":"0.2","x":766,"y":333,"a":-15},{"t":"0.4","x":800,"y":551,"a":0},{"t":"0.4","x":750,"y":755,"a":-25},{"t":"0.2","x":731,"y":858,"a":-20},{"t":"0.2","x":863,"y":947,"a":-65},{"t":"0.2","x":739,"y":1091,"a":15},{"t":"0.2","x":858,"y":1078,"a":-5},{"t":"0.4","x":815,"y":1125,"a":0},
{"t":"-0.2","x":932,"y":146,"a":0},{"t":"-0.2","x":1032,"y":190,"a":-20},{"t":"0","x":936,"y":204,"a":0},{"t":"0.2","x":936,"y":345,"a":-5},{"t":"0.2","x":908,"y":671,"a":-30},{"t":"0.4","x":940,"y":684,"a":-5},{"t":"0.2","x":1027,"y":665,"a":-35},{"t":"0.2","x":907,"y":1058,"a":80},{"t":"0.6","x":968,"y":1067,"a":0},{"t":"0.2","x":1033,"y":1083,"a":-15}
],
"arrow":[{"x":205,"y":21},{"x":951,"y":21},{"x":951,"y":2},{"x":1026,"y":40},{"x":951,"y":77},{"x":951,"y":59},{"x":205,"y":59},{"x":205,"y":21}],
"headerA":[{"t":"Base Model","x":86,"y":38}],
"headerB":[{"t":"Increasing Upstream Distance of the Interfering Model","x":615,"y":39}],
"panels":[{"t":"(a)","x":85,"y":100},{"t":"(b)","x":263,"y":100},{"t":"(c)","x":442,"y":100},{"t":"(d)","x":613,"y":98},{"t":"(e)","x":790,"y":101},{"t":"(f)","x":966,"y":101}]
},
"encoding":{"x":{"field":"x","type":"quantitative","scale":{"domain":[0,1052],"nice":false,"zero":false},"axis":null},"y":{"field":"y","type":"quantitative","scale":{"domain":[1135,0],"nice":false,"zero":false},"axis":null}},
"layer":[
{"data":{"name":"arrow"},"mark":{"type":"line","fill":"#70D248","stroke":"#1c1c1c","strokeWidth":2,"strokeJoin":"miter","order":false,"clip":false}},
{"data":{"name":"regions"},"mark":{"type":"line","stroke":null,"strokeWidth":0,"order":false},"encoding":{"detail":{"field":"s"},"fill":{"field":"v","type":"ordinal","legend":null,"scale":{"domain":[-0.8,-0.6,-0.4,-0.2,0,0.2,0.4,0.6,0.8,1],"range":["#00B4FF","#00EBFF","#00FFE0","#00FFA5","#00FF66","#8AFF2E","#DFFF00","#FFE000","#FFAE00","#FF7A00"]}}}},
{"data":{"name":"regions"},"transform":[{"filter":"datum.c !== 1"}],"mark":{"type":"line","stroke":"#2a2a2a","strokeWidth":1.2,"strokeDash":[3,3],"order":false},"encoding":{"detail":{"field":"s"}}},
{"data":{"name":"labels"},"mark":{"type":"text","font":"Liberation Sans","fontSize":23,"color":"#1a1a1a","align":"center","baseline":"middle"},"encoding":{"text":{"field":"t"},"angle":{"field":"a","type":"quantitative","scale":null}}},
{"data":{"name":"headerA"},"mark":{"type":"text","font":"Lato","fontWeight":"bold","fontSize":25.5,"color":"#111111","align":"center","baseline":"middle"},"encoding":{"text":{"field":"t"}}},
{"data":{"name":"headerB"},"mark":{"type":"text","font":"Lato","fontWeight":"bold","fontSize":28.7,"color":"#111111","align":"center","baseline":"middle"},"encoding":{"text":{"field":"t"}}},
{"data":{"name":"panels"},"mark":{"type":"text","font":"Lato","fontSize":22,"color":"#222222","align":"center","baseline":"middle"},"encoding":{"text":{"field":"t"}}}
]}
